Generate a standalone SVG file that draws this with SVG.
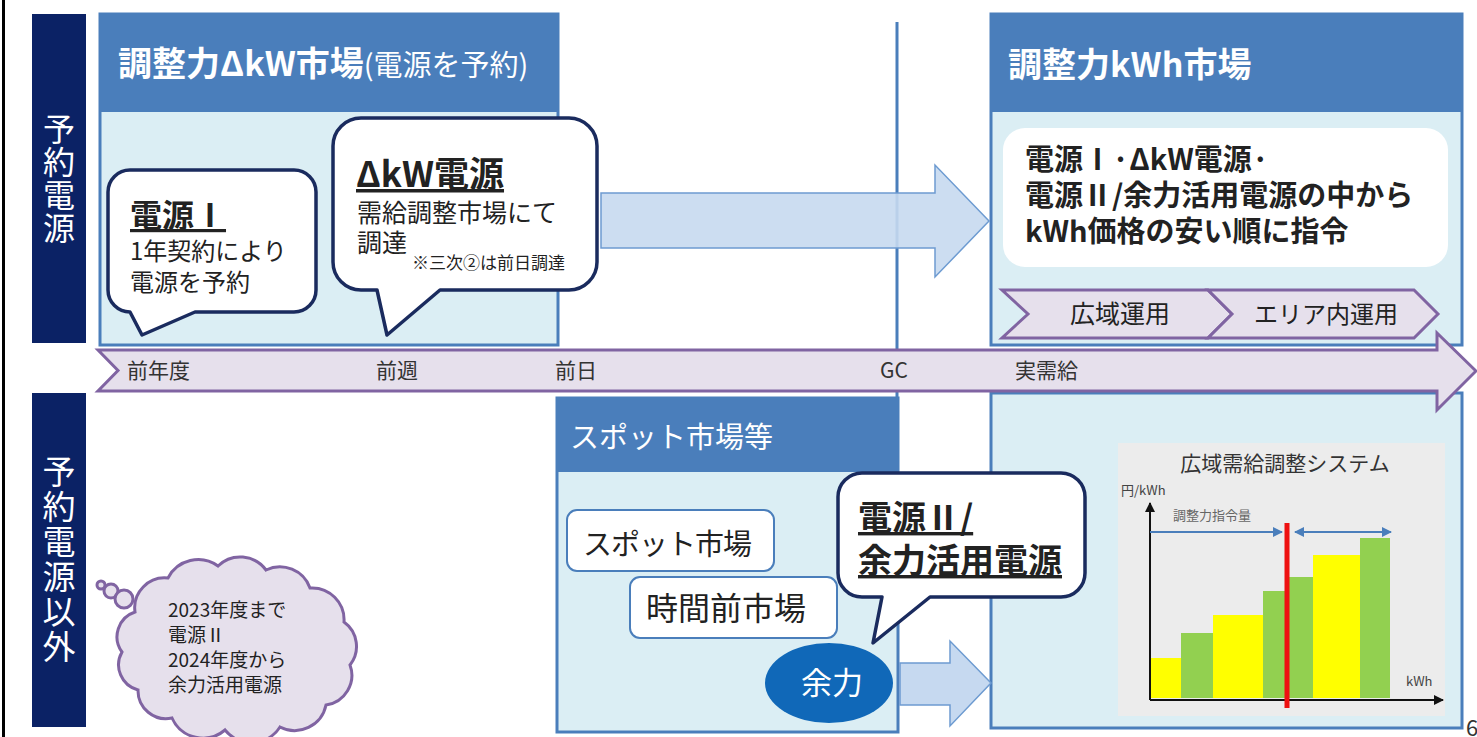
<svg xmlns="http://www.w3.org/2000/svg" width="1477" height="737" viewBox="0 0 1477 737">
<defs>
<style>
text{font-family:"Noto Sans CJK JP","Noto Sans",sans-serif}
.navy{fill:#0b2265}
.hdr{fill:#4a7ebb}
.body{fill:#dbeef4;stroke:#4a7ebb;stroke-width:3}
.bub{fill:#fff;stroke:#1a2b5e;stroke-width:3.5;stroke-linejoin:round}
.wt{fill:#fff}
.tx{fill:#222}
.lav{fill:#e6e0ec;stroke:#8064a2;stroke-width:3}
.arr{fill:#c6d9f0;stroke:#6d9bd1;stroke-width:1.5}
.wbox{fill:#fff;stroke:#4a7ebb;stroke-width:2}
.b{font-weight:bold}
.u{text-decoration:underline}
.vt{writing-mode:vertical-rl}
</style>
<marker id="ah" viewBox="0 0 10 10" refX="9" refY="5" markerWidth="5" markerHeight="5" orient="auto-start-reverse"><path d="M0 0L10 5L0 10Z" fill="#111"/></marker>
<marker id="bh" viewBox="0 0 10 10" refX="9" refY="5" markerWidth="5" markerHeight="5" orient="auto-start-reverse"><path d="M0 0L10 5L0 10Z" fill="#4a7ebb"/></marker>
</defs>
<rect width="1477" height="737" fill="#fff"/>
<rect x="2" y="0" width="3" height="737" fill="#000"/>

<g id="label-yoyaku">
<rect class="navy" x="32" y="14" width="54" height="329"/>
<text class="wt vt" x="59" y="113" font-size="32" letter-spacing="1">予約電源</text>
</g>
<g id="label-igai">
<rect class="navy" x="32" y="393" width="54" height="334"/>
<text class="wt vt" x="59" y="455" font-size="33" letter-spacing="2">予約電源以外</text>
</g>

<line x1="897" y1="22" x2="897" y2="400" stroke="#4a7ebb" stroke-width="3"/>

<g id="dkw-market">
<rect class="body" x="100" y="14" width="458" height="331"/>
<rect class="hdr" x="100" y="14" width="458" height="98"/>
<text class="wt" x="118" y="76"><tspan class="b" font-size="34">調整力ΔkW市場</tspan><tspan font-size="29">(電源を予約)</tspan></text>
</g>

<g id="dengen1">
<path class="bub" d="M130 170H294A22 22 0 0 1 316 192V290A22 22 0 0 1 294 312H195L142 335L130 312A22 22 0 0 1 108 290V192A22 22 0 0 1 130 170Z"/>
<text class="tx b u" x="130" y="227" font-size="32">電源Ⅰ</text>
<text class="tx" x="130" y="260" font-size="24">1年契約により</text>
<text class="tx" x="130" y="291" font-size="24">電源を予約</text>
</g>

<g id="dkw-dengen">
<path class="bub" d="M361 118H569A28 28 0 0 1 597 146V262A28 28 0 0 1 569 290H440L387 335L377 290H361A28 28 0 0 1 333 262V146A28 28 0 0 1 361 118Z"/>
<text class="tx b u" x="356" y="187" font-size="35">ΔkW電源</text>
<text class="tx" x="357" y="222" font-size="25">需給調整市場にて</text>
<text class="tx" x="357" y="252" font-size="25">調達</text>
<text class="tx" x="412" y="269" font-size="17">※三次②は前日調達</text>
</g>

<g id="kwh-market">
<rect class="body" x="991" y="14" width="471" height="331"/>
<rect class="hdr" x="991" y="14" width="471" height="98"/>
<text class="wt b" x="1008" y="77" font-size="34">調整力kWh市場</text>
<rect x="1003" y="128" width="445" height="139" rx="22" fill="#fff"/>
<text class="tx b" x="1025" y="170" font-size="29">電源Ⅰ·ΔkW電源·</text>
<text class="tx b" x="1025" y="206" font-size="29">電源Ⅱ/余力活用電源の中から</text>
<text class="tx b" x="1025" y="242" font-size="29">kWh価格の安い順に指令</text>
</g>

<g id="chevron-kouiki">
<path class="lav" d="M1002 290H1208L1232 314L1208 338H1002L1028 314Z"/>
<text class="tx" x="1120" y="323" font-size="25" text-anchor="middle">広域運用</text>
</g>
<g id="chevron-area">
<path class="lav" d="M1208 290H1414L1438 314L1414 338H1208L1232 314Z"/>
<text class="tx" x="1326" y="323" font-size="24" text-anchor="middle">エリア内運用</text>
</g>

<g id="kwh-lower">
<rect class="body" x="991" y="393" width="471" height="335"/>
</g>

<g id="spot-market">
<rect class="body" x="557" y="398" width="341" height="334"/>
<rect class="hdr" x="557" y="398" width="341" height="74"/>
<text class="wt" x="570" y="448" font-size="29">スポット市場等</text>
</g>
<g id="spot">
<rect class="wbox" x="567" y="510" width="207" height="61" rx="10"/>
<text class="tx" x="583" y="555" font-size="29" letter-spacing="-1">スポット市場</text>
</g>
<g id="jikanmae">
<rect class="wbox" x="630" y="577" width="207" height="61" rx="10"/>
<text class="tx" x="646" y="620" font-size="32">時間前市場</text>
</g>
<g id="yoryoku">
<ellipse cx="829" cy="683" rx="64" ry="40" fill="#1068b8"/>
<text class="wt" x="832" y="694" font-size="31" text-anchor="middle">余力</text>
</g>

<g id="dengen2">
<path class="bub" d="M862 473H1061A24 24 0 0 1 1085 497V573A24 24 0 0 1 1061 597H930L873 643L882 597H862A24 24 0 0 1 838 573V497A24 24 0 0 1 862 473Z"/>
<text class="tx b u" x="858" y="530" font-size="34">電源Ⅱ/</text>
<text class="tx b u" x="858" y="573" font-size="34">余力活用電源</text>
</g>

<g id="cloud">
<circle class="lav" cx="101" cy="585" r="4" stroke-width="2"/>
<circle class="lav" cx="111" cy="591" r="7" stroke-width="2"/>
<circle class="lav" cx="124" cy="599" r="9" stroke-width="2"/>
<path class="lav" stroke-width="2" d="M135 612A30 30 0 0 1 168 578A34 34 0 0 1 218 566A32 32 0 0 1 266 570A32 32 0 0 1 310 588A32 32 0 0 1 344 622A30 30 0 0 1 350 665A30 30 0 0 1 326 705A32 32 0 0 1 280 727A34 34 0 0 1 225 730A34 34 0 0 1 172 718A28 28 0 0 1 138 690A26 26 0 0 1 122 652A26 26 0 0 1 135 612Z"/>
<text class="tx" x="168" y="617" font-size="19">2023年度まで</text>
<text class="tx" x="168" y="642" font-size="19">電源Ⅱ</text>
<text class="tx" x="168" y="667" font-size="19">2024年度から</text>
<text class="tx" x="168" y="692" font-size="19">余力活用電源</text>
</g>

<g id="chart">
<rect x="1118" y="443" width="327" height="273" fill="#ececec"/>
<text x="1285" y="471" font-size="21" text-anchor="middle" fill="#333">広域需給調整システム</text>
<text x="1121" y="495" font-size="13" fill="#444">円/kWh</text>
<text x="1173" y="520" font-size="13" fill="#666">調整力指令量</text>
<text x="1406" y="686" font-size="13" fill="#444">kWh</text>
<rect x="1151" y="658" width="30" height="40" fill="#ffff00"/>
<rect x="1181" y="633" width="32" height="65" fill="#92d050"/>
<rect x="1213" y="615" width="50" height="83" fill="#ffff00"/>
<rect x="1263" y="591" width="23" height="107" fill="#92d050"/>
<rect x="1288" y="577" width="25" height="121" fill="#92d050"/>
<rect x="1313" y="555" width="47" height="143" fill="#ffff00"/>
<rect x="1360" y="538" width="30" height="160" fill="#92d050"/>
<line x1="1150" y1="700" x2="1150" y2="503" stroke="#111" stroke-width="2" marker-end="url(#ah)"/>
<line x1="1150" y1="700" x2="1443" y2="700" stroke="#111" stroke-width="2" marker-end="url(#ah)"/>
<line x1="1150" y1="532" x2="1282" y2="532" stroke="#4a7ebb" stroke-width="2" marker-end="url(#bh)"/>
<line x1="1295" y1="532" x2="1391" y2="532" stroke="#4a7ebb" stroke-width="2" marker-start="url(#bh)" marker-end="url(#bh)"/>
<line x1="1287" y1="523" x2="1287" y2="708" stroke="#ee1111" stroke-width="5"/>
</g>

<g id="connectors">
<path class="arr" fill-opacity="0.9" d="M601 193H935V165L989 221L935 277V248H601Z"/>
<path class="arr" d="M900 663H950V641L991 683L950 726V705H900Z"/>
<path class="lav" d="M98 350H1437V333L1476 371L1437 410V391H98L118 370.5Z"/>
</g>

<g id="timeline-labels" class="tx" font-size="21">
<text x="127" y="378" fill="#333">前年度</text>
<text x="376" y="378" fill="#333">前週</text>
<text x="555" y="378" fill="#333">前日</text>
<text x="880" y="378" fill="#333">GC</text>
<text x="1015" y="378" fill="#333">実需給</text>
</g>
<text x="1466" y="736" font-size="22" fill="#333">6</text>
</svg>
